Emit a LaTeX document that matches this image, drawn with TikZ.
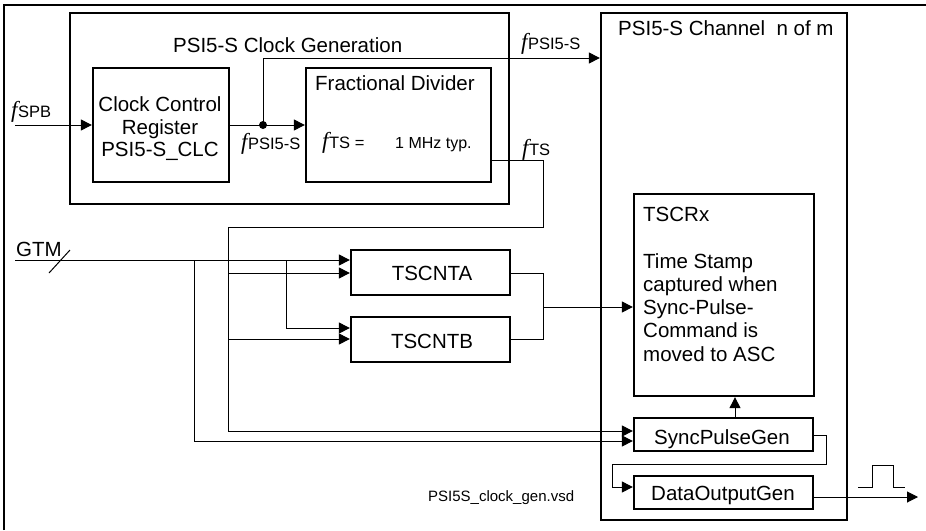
\documentclass[tikz,border=0pt]{standalone}
\usepackage{fontspec}
\setmainfont{Liberation Sans}
\newfontfamily\tnrfont{Liberation Serif}
\usetikzlibrary{arrows.meta}
\newcommand{\fsz}[1]{\fontsize{#1}{#1}\selectfont}
\newcommand{\fsym}[1]{{\tnrfont\itshape\fontsize{23}{23}\selectfont f}\kern0.5pt{\fontsize{16.5}{16.5}\selectfont #1}}
\begin{document}
\begin{tikzpicture}[x=1pt,y=-1pt,
  box/.style={draw, line width=2.3pt, inner sep=0pt},
  ln/.style={line width=1pt},
  arr/.style={ln, -{Triangle[length=11pt,width=11pt]}},
  lbl/.style={inner sep=0pt, font=\fsz{20.5}},
  sym/.style={inner sep=0pt, anchor=base west}]
\useasboundingbox (0,0) rectangle (926,530);
% outer frame
\draw[line width=1.3pt] (4,530) -- (4,5) -- (926,5);
% boxes
\node[box, minimum width=439pt, minimum height=191pt] (clkgen) at (289.5,108.5) {};
\node[box, minimum width=136pt, minimum height=114pt] (ccr) at (161,125) {};
\node[box, minimum width=185pt, minimum height=114pt] (fd) at (398.5,125) {};
\node[box, minimum width=246pt, minimum height=507pt] (chan) at (724,266.5) {};
\node[box, minimum width=159pt, minimum height=45pt] (tscnta) at (430.5,272.5) {};
\node[box, minimum width=159pt, minimum height=45pt] (tscntb) at (430.5,339.5) {};
\node[box, minimum width=180pt, minimum height=202pt] (tscrx) at (724,295) {};
\node[box, minimum width=179pt, minimum height=33pt] (spg) at (723.5,434.5) {};
\node[box, minimum width=179pt, minimum height=33pt] (dog) at (723.5,492.5) {};
% texts
\node[lbl, anchor=base west] (cgtitle) at (173,52) {PSI5-S Clock Generation};
\node[lbl, anchor=base west] (chtitle) at (618,35) {PSI5-S Channel\ \ n of m};
\node[lbl, anchor=base, align=center, font=\fontsize{20.5}{22.5}\selectfont] (ccrtxt) at (160,156.7) {Clock Control\\Register\\PSI5-S\_CLC};
\node[lbl, anchor=base west] (fdtitle) at (315,90) {Fractional Divider};
\node[sym] (fdf) at (322,148) {\fsym{TS =}};
\node[sym, font=\fsz{16}] (fdval) at (395,148) {1 MHz typ.};
\node[sym] (spblbl) at (11,117) {\fsym{SPB}};
\node[sym] (fpsilow) at (241,149.5) {\fsym{PSI5-S}};
\node[sym] (fpsiup) at (521,49) {\fsym{PSI5-S}};
\node[sym] (ftslbl) at (522,155) {\fsym{TS}};
\node[lbl, anchor=base west] (gtm) at (16,256) {GTM};
\node[lbl, anchor=base] (tsatxt) at (432,280) {TSCNTA};
\node[lbl, anchor=base] (tsbtxt) at (432,348) {TSCNTB};
\node[lbl, anchor=base west, align=left, font=\fontsize{20.5}{23.2}\selectfont] (tscrxtxt) at (643,361)
  {TSCRx\\[23.2pt]Time Stamp\\captured when\\Sync-Pulse-\\Command is\\moved to ASC};
\node[lbl, anchor=base] (spgtxt) at (722,444) {SyncPulseGen};
\node[lbl, anchor=base] (dogtxt) at (723,500) {DataOutputGen};
\node[lbl, anchor=base west, font=\fsz{15}] (fname) at (428,501.7) {PSI5S\_clock\_gen.vsd};
% clock path
\coordinate (spbin) at (15,125);
\draw[arr] (spbin) -- (ccr.west);
\draw[arr] (ccr.east) -- (fd.west);
\node[circle, fill, inner sep=0pt, minimum size=8pt] (dot) at (263,125) {};
\coordinate (fpsy) at (0,58);
\draw[arr] (dot.center) |- (chan.west |- fpsy);
% fTS net
\coordinate (fts1) at (543,160);
\coordinate (fts2) at (543,227);
\coordinate (fts3) at (228,227);
\coordinate (fts4) at (228,431);
\draw[arr] (fd.east |- fts1) -- (fts1) -- (fts2) -- (fts3) -- (fts4) -- (spg.west |- fts4);
\coordinate (fa) at (228,273);
\coordinate (fb) at (228,339);
\draw[arr] (fa) -- (tscnta.west |- fa);
\draw[arr] (fb) -- (tscntb.west |- fb);
% GTM net
\coordinate (gtmin) at (15,260);
\draw[arr] (gtmin) -- (tscnta.west |- gtmin);
\coordinate (g1) at (194,260);
\coordinate (g1b) at (194,441);
\draw[arr] (g1) -- (g1b) -- (spg.west |- g1b);
\coordinate (g2) at (286,260);
\coordinate (g2b) at (286,328);
\draw[arr] (g2) -- (g2b) -- (tscntb.west |- g2b);
\draw[ln] (49,273) -- (70,250);
% counters to TSCRx
\coordinate (m1) at (543,273);
\coordinate (m2) at (543,339);
\coordinate (mm) at (543,307);
\draw[ln] (tscnta.east |- m1) -- (m1) -- (m2) -- (tscntb.east |- m2);
\draw[arr] (mm) -- (tscrx.west |- mm);
% SyncPulseGen to TSCRx
\coordinate (upx) at (735,0);
\draw[arr] (spg.north -| upx) -- (tscrx.south -| upx);
% SyncPulseGen to DataOutputGen
\coordinate (s1) at (826,435);
\coordinate (s2) at (826,464);
\coordinate (s3) at (612,464);
\coordinate (s4) at (612,487);
\draw[arr] (spg.east |- s1) -- (s1) -- (s2) -- (s3) -- (s4) -- (dog.west |- s4);
% output
\coordinate (outp) at (918,497);
\draw[arr] (dog.east |- outp) -- (outp);
\draw[ln] (858,487) -- (872,487) -- (872,465) -- (893,465) -- (893,487) -- (905,487);
\end{tikzpicture}
\end{document}
